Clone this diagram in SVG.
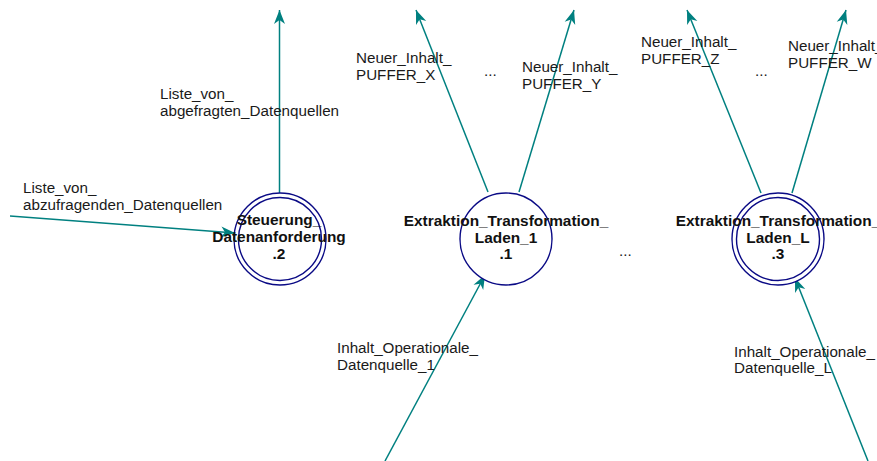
<svg xmlns="http://www.w3.org/2000/svg" width="877" height="461" viewBox="0 0 877 461">
  <style>
    .bg { fill: #ffffff; }
    .proc { fill: #ffffff; stroke: #0a0a85; stroke-width: 1.4; }
    .title { font-family: "Liberation Sans", Arial, sans-serif; font-size: 15.4px; font-weight: bold; fill: #111; text-anchor: middle; }
    .lbl { font-family: "Liberation Sans", Arial, sans-serif; font-size: 15.2px; fill: #1a1a1a; }
    .flow { fill: none; stroke: #008080; stroke-width: 1.5; marker-end: url(#head); }
  </style>
  <defs>
    <marker id="head" markerUnits="userSpaceOnUse" viewBox="-14 -6 15 12" refX="0" refY="0" markerWidth="15" markerHeight="12" orient="auto">
      <path d="M0,0 L-14,-5.5 L-10,0 L-14,5.5 Z" fill="#008080"/>
    </marker>
  </defs>
  <rect class="bg" x="0" y="0" width="877" height="461"/>

  <!-- data flows -->
  <g id="connectors">
    <line class="flow" x1="10" y1="216" x2="235" y2="233"/>
    <line class="flow" x1="279.5" y1="193" x2="279.5" y2="10"/>
    <line class="flow" x1="488" y1="192" x2="416" y2="10"/>
    <line class="flow" x1="519" y1="192" x2="574" y2="10"/>
    <line class="flow" x1="761" y1="193" x2="687" y2="10"/>
    <line class="flow" x1="792" y1="193" x2="846" y2="10"/>
    <line class="flow" x1="385" y1="461" x2="485" y2="275"/>
    <line class="flow" x1="868" y1="461" x2="795" y2="278"/>
  </g>

  <!-- flow labels -->
  <g id="flow-labels">
    <text class="lbl" x="23" y="193">Liste_von_</text>
    <text class="lbl" x="23" y="210">abzufragenden_Datenquellen</text>
    <text class="lbl" x="160" y="99">Liste_von_</text>
    <text class="lbl" x="160" y="116">abgefragten_Datenquellen</text>
    <text class="lbl" x="356" y="63">Neuer_Inhalt_</text>
    <text class="lbl" x="356" y="80">PUFFER_X</text>
    <text class="lbl" x="484" y="76">...</text>
    <text class="lbl" x="522" y="72">Neuer_Inhalt_</text>
    <text class="lbl" x="522" y="89">PUFFER_Y</text>
    <text class="lbl" x="641" y="47">Neuer_Inhalt_</text>
    <text class="lbl" x="641" y="64">PUFFER_Z</text>
    <text class="lbl" x="755" y="76">...</text>
    <text class="lbl" x="788" y="51">Neuer_Inhalt_</text>
    <text class="lbl" x="788" y="68">PUFFER_W</text>
    <text class="lbl" x="337" y="353">Inhalt_Operationale_</text>
    <text class="lbl" x="337" y="370">Datenquelle_1</text>
    <text class="lbl" x="734" y="357">Inhalt_Operationale_</text>
    <text class="lbl" x="734" y="373">Datenquelle_L</text>
    <text class="lbl" x="619" y="256">...</text>
  </g>

  <!-- processes -->
  <g id="node-2">
    <circle class="proc" cx="280" cy="239" r="46"/>
    <circle class="proc" cx="280" cy="239" r="41.5"/>
    <text class="title" x="279" y="225">Steuerung_</text>
    <text class="title" x="279" y="242">Datenanforderung</text>
    <text class="title" x="279" y="259">.2</text>
  </g>

  <g id="node-1">
    <circle class="proc" cx="506" cy="239" r="46"/>
    <text class="title" x="506" y="226">Extraktion_Transformation_</text>
    <text class="title" x="506" y="243">Laden_1</text>
    <text class="title" x="506" y="259">.1</text>
  </g>

  <g id="node-3">
    <circle class="proc" cx="778" cy="239" r="46"/>
    <circle class="proc" cx="778" cy="239" r="41.5"/>
    <text class="title" x="778" y="226">Extraktion_Transformation_</text>
    <text class="title" x="778" y="243">Laden_L</text>
    <text class="title" x="778" y="259">.3</text>
  </g>
</svg>
